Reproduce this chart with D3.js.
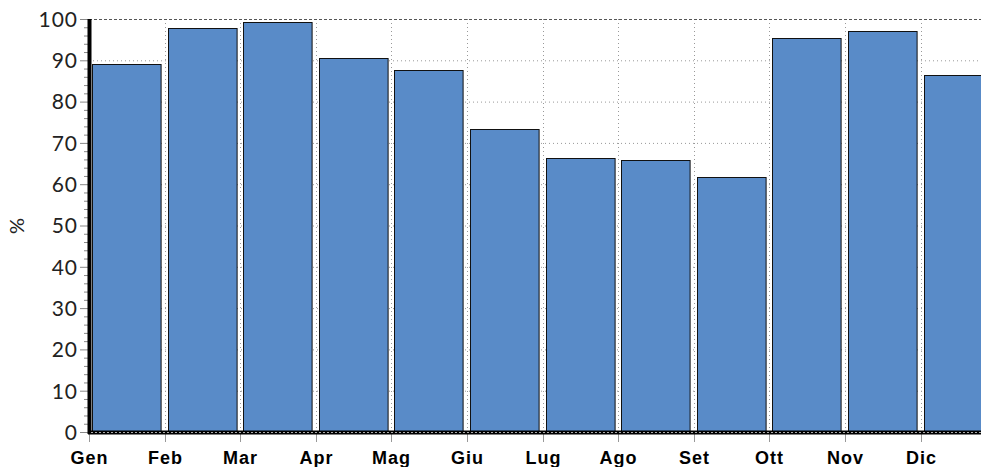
<!DOCTYPE html>
<html>
<head>
<meta charset="utf-8">
<script src="https://cdn.jsdelivr.net/npm/d3@7"></script>
<style>
  body { margin: 0; background: #fff; }
  svg { display: block; }
  .ytick text { font-family: Lato, "Open Sans", sans-serif; font-size: 21px; letter-spacing: 1px; fill: #222; }
  .xtick text { font-family: "Liberation Sans", Arial, sans-serif; font-weight: bold; font-size: 18px; letter-spacing: 1px; fill: #000; }
</style>
</head>
<body>
<svg id="chart" width="981" height="467"></svg>
<script>
const months = ["Gen", "Feb", "Mar", "Apr", "Mag", "Giu", "Lug", "Ago", "Set", "Ott", "Nov", "Dic"];
const values = [89.1, 97.8, 99.3, 90.6, 87.6, 73.4, 66.3, 65.9, 61.7, 95.4, 97.1, 86.4];
const yTicks = [0, 10, 20, 30, 40, 50, 60, 70, 80, 90, 100];
const yLabel = "%";

const svg = d3.select("#chart");
const plotLeft = 89, plotTop = 19, plotBottom = 432;
const step = 75.6;

const x = d3.scaleBand()
    .domain(months)
    .range([plotLeft, plotLeft + step * months.length])
    .paddingInner(0)
    .paddingOuter(0);

const y = d3.scaleLinear()
    .domain([0, 100])
    .range([plotBottom, plotTop]);

// grid
const grid = svg.append("g");
grid.selectAll(".hgrid")
    .data(yTicks.filter(d => d > 0 && d < 100))
    .enter().append("line")
    .attr("x1", plotLeft).attr("x2", 981)
    .attr("y1", d => y(d) + 0.5).attr("y2", d => y(d) + 0.5)
    .attr("stroke", "#999").attr("stroke-dasharray", "1,3");
grid.selectAll(".vgrid")
    .data(months.slice(1))
    .enter().append("line")
    .attr("x1", d => Math.round(x(d)) + 0.5).attr("x2", d => Math.round(x(d)) + 0.5)
    .attr("y1", plotTop).attr("y2", plotBottom)
    .attr("stroke", "#999").attr("stroke-dasharray", "1,3");

// top border
svg.append("line")
    .attr("x1", plotLeft).attr("x2", 981)
    .attr("y1", y(100) + 0.5).attr("y2", y(100) + 0.5)
    .attr("stroke", "#555").attr("stroke-dasharray", "3,2");

// bars
svg.append("g").selectAll("rect")
    .data(values)
    .enter().append("rect")
    .attr("x", (d, i) => Math.round(x(months[i])) + 3.5)
    .attr("width", x.bandwidth() - 7)
    .attr("y", d => Math.round(y(d)) + 0.5)
    .attr("height", d => plotBottom - Math.round(y(d)))
    .attr("fill", "#598bc8")
    .attr("stroke", "#111")
    .attr("stroke-width", 1);

// y axis
const yAxis = svg.append("g")
    .attr("class", "ytick")
    .attr("transform", `translate(${plotLeft},0)`)
    .call(d3.axisLeft(y).tickValues(yTicks).tickSize(9).tickPadding(2).tickFormat(d3.format("d")));
yAxis.select(".domain").remove();
yAxis.selectAll("line").attr("stroke", "#888");
yAxis.selectAll("text").attr("dy", "0.35em");

const yMinor = svg.append("g")
    .attr("transform", `translate(${plotLeft},0)`)
    .call(d3.axisLeft(y).tickValues(d3.range(0, 101, 2).filter(d => d % 10 !== 0)).tickSize(5).tickFormat(""));
yMinor.select(".domain").remove();
yMinor.selectAll("line").attr("stroke", "#888");

svg.append("line")
    .attr("x1", plotLeft + 0.5).attr("x2", plotLeft + 0.5)
    .attr("y1", plotTop).attr("y2", plotBottom + 2)
    .attr("stroke", "#000").attr("stroke-width", 4);

// x axis
const xAxis = svg.append("g")
    .attr("class", "xtick")
    .attr("transform", `translate(0,${plotBottom + 2})`)
    .call(d3.axisBottom(x).tickSize(8).tickPadding(9).offset(0));
xAxis.select(".domain").remove();
xAxis.selectAll(".tick").attr("transform", d => `translate(${Math.round(x(d)) + 0.5},0)`);
xAxis.selectAll("line").attr("stroke", "#999");

svg.append("line")
    .attr("x1", plotLeft - 1).attr("x2", 981)
    .attr("y1", plotBottom + 0.5).attr("y2", plotBottom + 0.5)
    .attr("stroke", "#000").attr("stroke-width", 4);
svg.append("line")
    .attr("x1", plotLeft + 2).attr("x2", 981)
    .attr("y1", plotBottom + 0.5).attr("y2", plotBottom + 0.5)
    .attr("stroke", "#aaa").attr("stroke-width", 1).attr("stroke-dasharray", "2,2");

// y label
svg.append("text")
    .attr("transform", "translate(24,226) rotate(-90)")
    .attr("text-anchor", "middle")
    .attr("font-family", "Lato, sans-serif")
    .attr("font-size", 20)
    .attr("fill", "#222")
    .text(yLabel);
</script>
</body>
</html>
